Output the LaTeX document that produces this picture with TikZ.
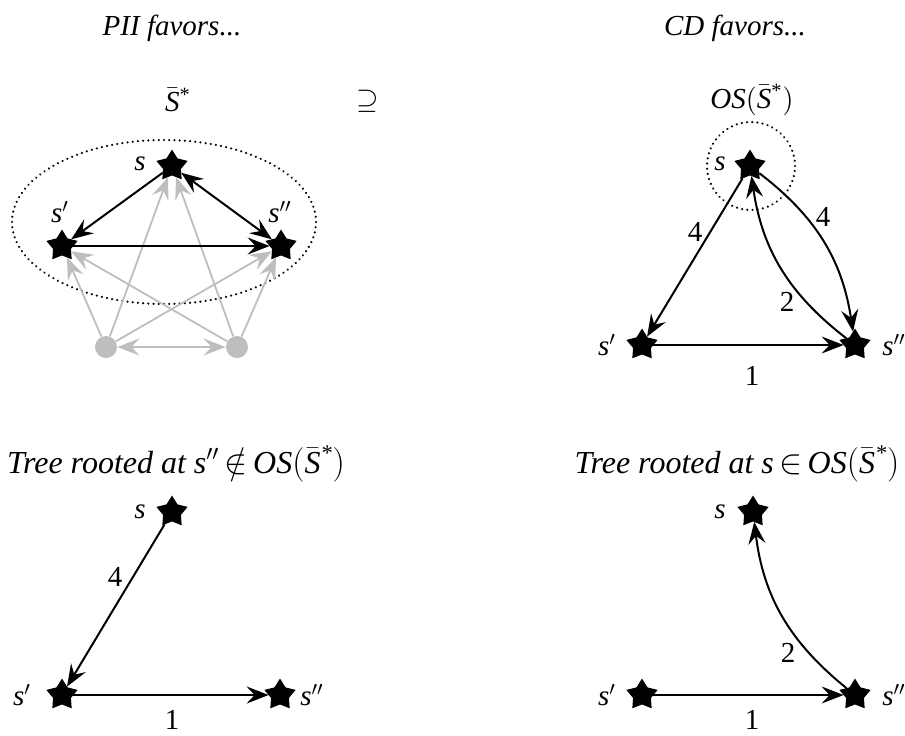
\documentclass[tikz,border=0pt]{standalone}
\usepackage{fontspec}
\setmainfont{Liberation Serif}
\usetikzlibrary{shapes.geometric,arrows.meta}
\definecolor{lg}{RGB}{190,190,190}
\newcommand{\Sbs}{\ensuremath{\bar{\mbox{\itshape S}}}\textsuperscript{*}}
\newcommand{\OSS}{\textit{OS}$\bigl($\Sbs$\bigr)$}
\begin{document}
\begin{tikzpicture}[x=0.5pt,y=-0.5pt,
  >={Stealth[length=11pt,width=8.5pt,inset=4pt]},
  font=\fontsize{14.5}{17}\selectfont,
  starnode/.style={star,star points=5,star point ratio=1.75,fill=black,draw=black,line width=0.5pt,minimum size=15.5pt,inner sep=0pt},
  dotnode/.style={circle,fill=lg,minimum size=11pt,inner sep=0pt},
  blk/.style={line width=1pt,black},
  gry/.style={line width=0.9pt,draw=lg,color=lg},
  lbl/.style={inner sep=1pt,font=\fontsize{14.5}{17}\selectfont\itshape},
  num/.style={inner sep=0pt,font=\fontsize{14.5}{17}\selectfont},
  ttl/.style={inner sep=0pt,font=\fontsize{14.5}{17}\selectfont\itshape},
  ttlb/.style={inner sep=0pt,font=\fontsize{16}{19}\selectfont\itshape},
  dotline/.style={draw,line width=1.2pt,dash pattern=on 0.01pt off 2.6pt,line cap=round}]
\useasboundingbox (0,0) rectangle (905,735);

% titles
\node[ttl] (t1) at (172,28) {PII favors...};
\node[ttl] (t2) at (735,28) {CD favors...};
\node[inner sep=0pt] (sbar) at (178,100) {\Sbs};
\node[inner sep=0pt] (sup) at (368,101) {$\supseteq$};
\node[inner sep=0pt] (oss) at (752,100) {\OSS};

% ---- top left
\node[ellipse,dotline,minimum width=152pt,minimum height=82pt] (ell) at (164,222) {};
\node[starnode] (As) at (172,166) {};
\node[starnode] (Ap) at (62,246) {};
\node[starnode] (App) at (281,246) {};
\node[dotnode] (L) at (106,347) {};
\node[dotnode] (R) at (237,347) {};
\node[lbl] (lAs) at (140,164) {s};
\node[lbl] (lAp) at (60,212) {s$'$};
\node[lbl] (lApp) at (280,212) {s$''$};
\draw[gry,->] (L) -- (Ap);
\draw[gry,->] (L) -- (As);
\draw[gry,->] (L) -- (App);
\draw[gry,->] (R) -- (Ap);
\draw[gry,->] (R) -- (As);
\draw[gry,->] (R) -- (App);
\draw[gry,<->] (L) -- (R);
\draw[blk,->] (As) -- (Ap);
\draw[blk,<->] (As) -- (App);
\draw[blk,->] (Ap) -- (App);

% ---- top right
\node[circle,dotline,minimum size=44pt,inner sep=0pt] (circ) at (751,166) {};
\node[starnode] (Bs) at (750,166) {};
\node[starnode] (Bp) at (642,345) {};
\node[starnode] (Bpp) at (855,345) {};
\node[lbl] (lBs) at (720,164) {s};
\node[lbl] (lBp) at (607,345) {s$'$};
\node[lbl,anchor=west] (lBpp) at (880,345) {s$''$};
\draw[blk,->] (Bs) -- (Bp);
\draw[blk,->] (Bp) -- (Bpp);
\draw[blk,->] (Bs) to[bend left=22] (Bpp);
\draw[blk,->] (Bpp) to[bend left=22] (Bs);
\node[num] (n4a) at (695,232) {4};
\node[num] (n4b) at (823,217) {4};
\node[num] (n2a) at (787,302) {2};
\node[num] (n1a) at (752,376) {1};

% ---- bottom left
\node[ttlb] (t3) at (176,464) {Tree rooted at s$''$\,$\notin$\,\OSS};
\node[starnode] (Cs) at (172,512) {};
\node[starnode] (Cp) at (62,695) {};
\node[starnode] (Cpp) at (280,695) {};
\node[lbl] (lCs) at (140,512) {s};
\node[lbl] (lCp) at (22,695) {s$'$};
\node[lbl,anchor=west] (lCpp) at (298,695) {s$''$};
\draw[blk,->] (Cs) -- (Cp);
\draw[blk,->] (Cp) -- (Cpp);
\node[num] (n4c) at (115,577) {4};
\node[num] (n1c) at (172,720) {1};

% ---- bottom right
\node[ttlb] (t4) at (737,464) {Tree rooted at s\,$\in$\,\OSS};
\node[starnode] (Ds) at (753,512) {};
\node[starnode] (Dp) at (642,695) {};
\node[starnode] (Dpp) at (855,695) {};
\node[lbl] (lDs) at (720,512) {s};
\node[lbl] (lDp) at (607,695) {s$'$};
\node[lbl,anchor=west] (lDpp) at (880,695) {s$''$};
\draw[blk,->] (Dp) -- (Dpp);
\draw[blk,->] (Dpp) to[bend left=22] (Ds);
\node[num] (n2d) at (788,653) {2};
\node[num] (n1d) at (752,720) {1};
\end{tikzpicture}
\end{document}
